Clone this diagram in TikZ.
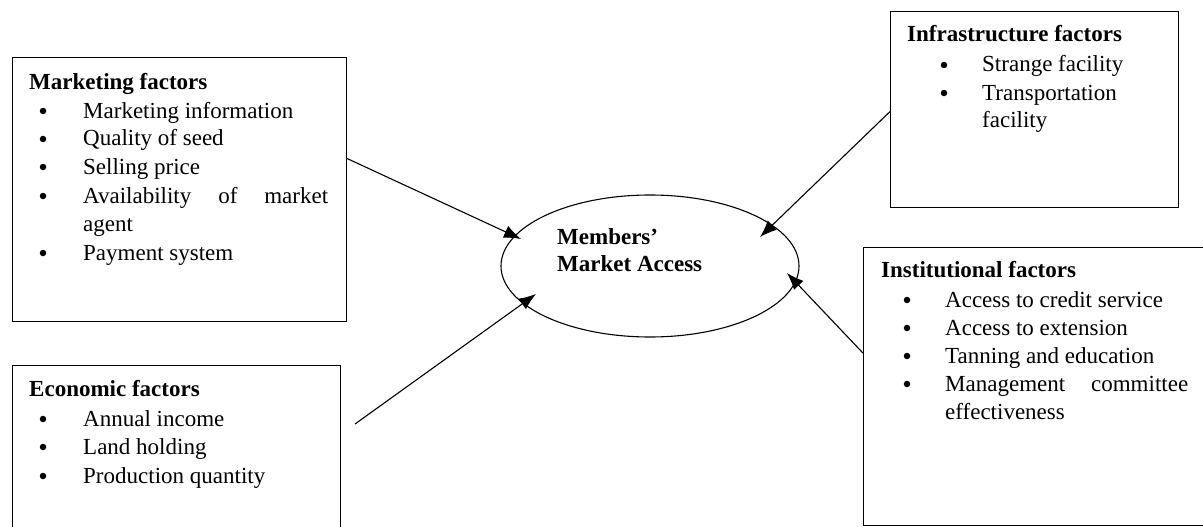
\documentclass[tikz,border=0pt]{standalone}
\usepackage{fontspec}
\setmainfont{Liberation Serif}
\usetikzlibrary{arrows.meta,calc,shapes.geometric}
\begin{document}
\begin{tikzpicture}[x=1pt,y=-1pt,
  box/.style={draw,line width=1.2pt,inner sep=0pt,anchor=north west},
  ttl/.style={anchor=base west,inner sep=0pt,font=\fontsize{23}{28}\selectfont\bfseries},
  itm/.style={anchor=base west,inner sep=0pt,font=\fontsize{23}{28}\selectfont},
  bul/.style={circle,fill,inner sep=0pt,minimum size=6.5pt},
  conn/.style={line width=1.1pt,-{Latex[length=17pt,width=13pt]}}]
\useasboundingbox (0,0) rectangle (1203,527);
\clip (0,0) rectangle (1203,527);
% boxes
\node[box,minimum width=334pt,minimum height=264pt] (mk) at (12,57) {};
\node[box,minimum width=328pt,minimum height=200pt] (ec) at (12,365) {};
\node[box,minimum width=288pt,minimum height=196pt] (inf) at (890,11) {};
\node[box,minimum width=380pt,minimum height=278pt] (ins) at (863,247) {};
% centre ellipse
\node[draw,ellipse,line width=1.1pt,minimum width=298pt,minimum height=142pt,inner sep=0pt] (ma) at (650,266) {};
\node[ttl] (ma1) at (557,244) {Members’};
\node[ttl] (ma2) at (557,271) {Market Access};
% marketing
\node[ttl] (mkt) at (29,89) {Marketing factors};
\foreach \t/\y [count=\i] in {Marketing information/118,Quality of seed/146,Selling price/174,{\makebox[245pt][s]{Availability\hfill of\hfill market}}/203,agent/231,Payment system/260}{
  \node[itm] (mki\i) at (83,\y) {\t};}
\foreach \y [count=\i] in {118,146,174,203,260}{
  \node[bul] (mkb\i) at (43,\y-7) {};}
% economic
\node[ttl] (ect) at (29,396) {Economic factors};
\foreach \t/\y [count=\i] in {Annual income/426,Land holding/454,Production quantity/483}{
  \node[itm] (eci\i) at (83,\y) {\t};
  \node[bul] (ecb\i) at (43,\y-7) {};}
% infrastructure
\node[ttl] (inft) at (907,42) {Infrastructure factors};
\node[itm] (infi1) at (982,72) {Strange facility};
\node[itm] (infi2) at (982,100) {Transportation};
\node[itm] (infi3) at (982,128) {facility};
\node[bul] (infb1) at (944,65) {};
\node[bul] (infb2) at (944,93) {};
% institutional
\node[ttl] (inst) at (881,277) {Institutional factors};
\foreach \t/\y [count=\i] in {Access to credit service/307,Access to extension/335,Tanning and education/363,{\makebox[243pt][s]{Management\hfill committee}}/391}{
  \node[itm] (insi\i) at (945,\y) {\t};
  \node[bul] (insb\i) at (907,\y-7) {};}
\node[itm] (insi5) at (945,419) {effectiveness};
% connector ends
\coordinate (m0) at ($(mk.north east)!0.383!(mk.south east)$);
\coordinate (e0) at (355,424);
\coordinate (f0) at ($(inf.north west)!0.51!(inf.south west)$);
\coordinate (s0) at ($(ins.north west)!0.38!(ins.south west)$);
\coordinate (m1) at ($(ma.center)+(-129,-27)$);
\coordinate (e1) at ($(ma.center)+(-114,28)$);
\coordinate (f1) at ($(ma.center)+(110,-29)$);
\coordinate (s1) at ($(ma.center)+(137,7)$);
\draw[conn] (m0) -- (m1);
\draw[conn] (e0) -- (e1);
\draw[conn] (f0) -- (f1);
\draw[conn] (s0) -- (s1);
\end{tikzpicture}
\end{document}
